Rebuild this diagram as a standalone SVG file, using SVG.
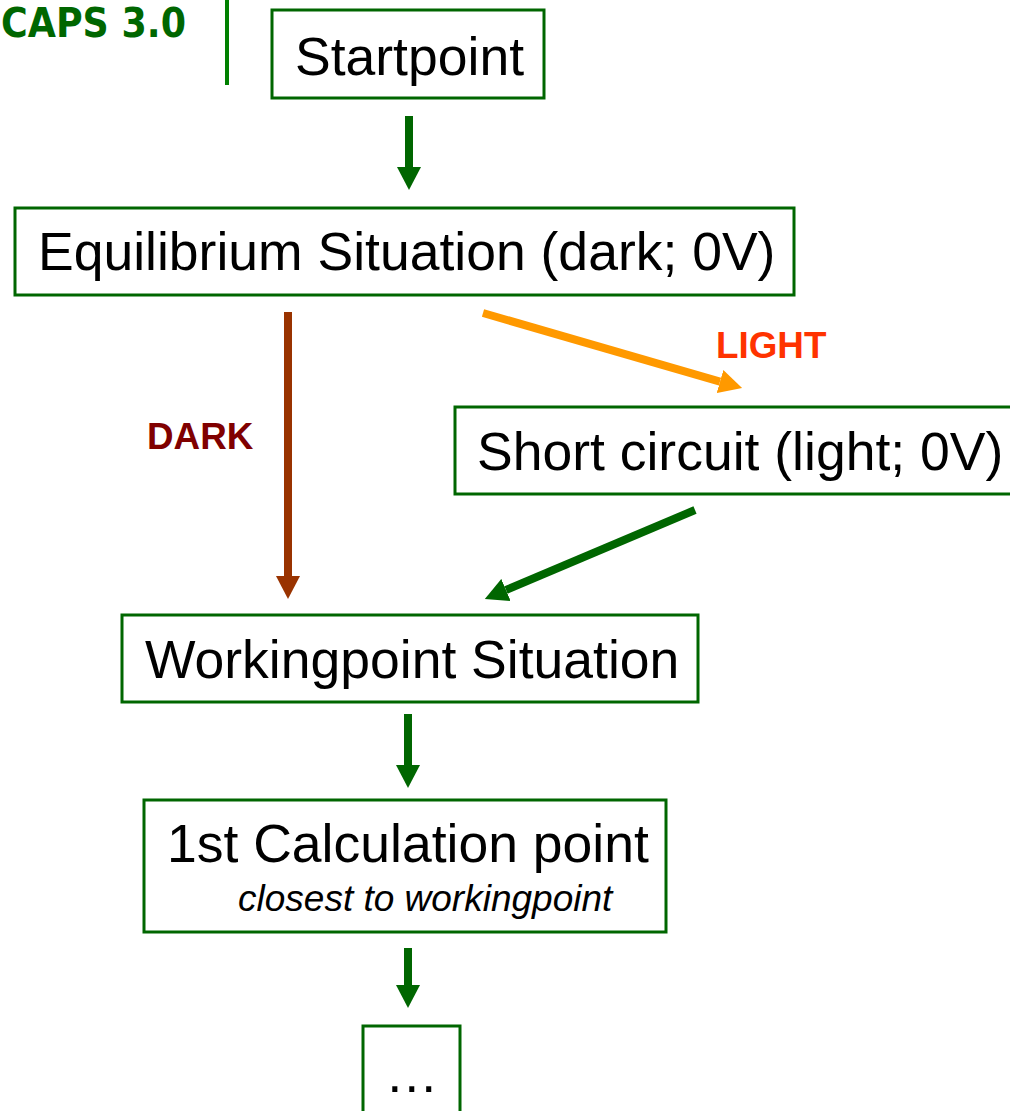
<svg xmlns="http://www.w3.org/2000/svg" width="1010" height="1111" viewBox="0 0 1010 1111">
<style>
.box{fill:#ffffff;stroke:#006600;stroke-width:3}
.t{font-family:"Liberation Sans",Arial,sans-serif;font-size:53.5px;fill:#000}
.lbl{font-family:"Liberation Sans",Arial,sans-serif;font-weight:bold;font-size:36.8px}
.sh{fill:none;stroke-width:8}
</style>
<defs>
<marker id="hg" markerUnits="userSpaceOnUse" markerWidth="24" markerHeight="24" refX="0" refY="12" orient="auto" viewBox="0 0 24 24"><path d="M0,0 L23,12 L0,24 z" fill="#006600"/></marker>
<marker id="hb" markerUnits="userSpaceOnUse" markerWidth="24" markerHeight="24" refX="0" refY="12" orient="auto" viewBox="0 0 24 24"><path d="M0,0 L23,12 L0,24 z" fill="#993300"/></marker>
<marker id="ho" markerUnits="userSpaceOnUse" markerWidth="24" markerHeight="24" refX="0" refY="12" orient="auto" viewBox="0 0 24 24"><path d="M0,0 L23,12 L0,24 z" fill="#FF9900"/></marker>
</defs>
<g id="title">
<text x="1" y="37" font-family="'DejaVu Sans',sans-serif" font-weight="bold" font-size="40" fill="#006600" textLength="185" lengthAdjust="spacingAndGlyphs">CAPS 3.0</text>
<line x1="227" y1="0" x2="227" y2="85" stroke="#008000" stroke-width="4"/>
</g>
<g id="connectors">
<line class="sh" x1="409" y1="116" x2="409" y2="167" stroke="#006600" marker-end="url(#hg)"/>
<line class="sh" x1="288" y1="312" x2="288" y2="576" stroke="#993300" marker-end="url(#hb)"/>
<line class="sh" x1="483" y1="313" x2="720" y2="381.6" stroke="#FF9900" marker-end="url(#ho)"/>
<line class="sh" x1="695" y1="510" x2="506" y2="590" stroke="#006600" marker-end="url(#hg)"/>
<line class="sh" x1="408" y1="714" x2="408" y2="765" stroke="#006600" marker-end="url(#hg)"/>
<line class="sh" x1="408" y1="948" x2="408" y2="985" stroke="#006600" marker-end="url(#hg)"/>
<text class="lbl" x="147" y="449" fill="#800000">DARK</text>
<text class="lbl" x="716" y="358" fill="#FF3300">LIGHT</text>
</g>
<g id="startpoint">
<rect class="box" x="272" y="10" width="272" height="88"/>
<text class="t" x="295" y="75">Startpoint</text>
</g>
<g id="equilibrium">
<rect class="box" x="15" y="208" width="779" height="87"/>
<text class="t" x="38" y="270">Equilibrium Situation (dark; 0V)</text>
</g>
<g id="shortcircuit">
<rect class="box" x="455" y="407" width="565" height="87"/>
<text class="t" x="477" y="470">Short circuit (light; 0V)</text>
</g>
<g id="workingpoint">
<rect class="box" x="122" y="615" width="576" height="87"/>
<text class="t" x="145" y="678">Workingpoint Situation</text>
</g>
<g id="calc">
<rect class="box" x="144" y="800" width="522" height="132"/>
<text class="t" x="167" y="862">1st Calculation point</text>
<text x="238" y="911" font-family="'Liberation Sans',Arial,sans-serif" font-style="italic" font-size="37" fill="#000">closest to workingpoint</text>
</g>
<g id="more">
<rect class="box" x="363" y="1026" width="97" height="100"/>
<text class="t" x="385" y="1092">…</text>
</g>
</svg>
